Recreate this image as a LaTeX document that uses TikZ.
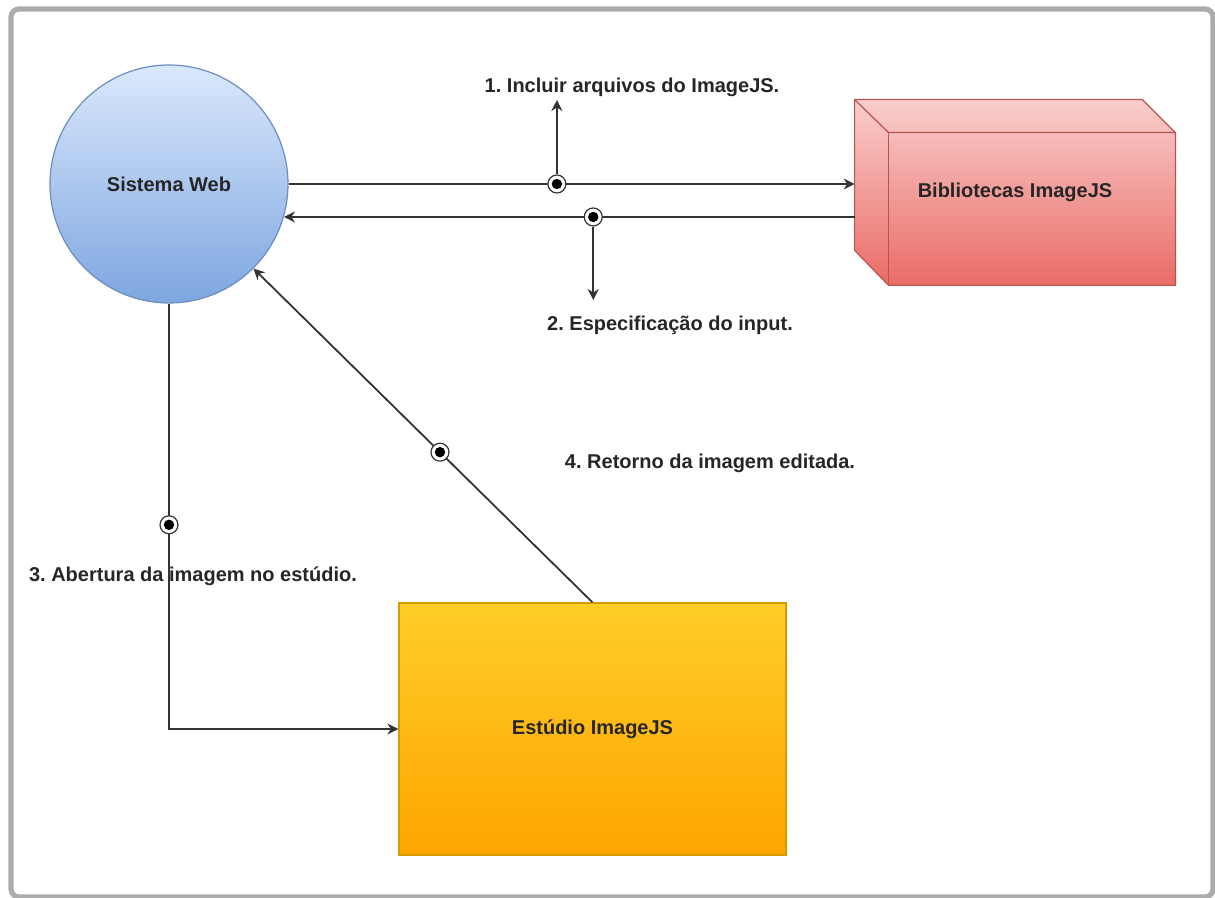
\documentclass[tikz,border=0pt]{standalone}
\usepackage{fontspec}
\setmainfont{Liberation Sans}
\usetikzlibrary{arrows.meta}
\frenchspacing

\definecolor{webtop}{HTML}{DAE8FC}
\definecolor{webbot}{HTML}{7EA6E0}
\definecolor{webline}{HTML}{6C8EBF}
\definecolor{bibtop}{HTML}{F8CECC}
\definecolor{bibbot}{HTML}{EA6B66}
\definecolor{bibline}{HTML}{B85450}
\definecolor{esttop}{HTML}{FFCD28}
\definecolor{estbot}{HTML}{FFA500}
\definecolor{estline}{HTML}{D79B00}

\tikzset{
  txt/.style={font=\fontsize{10}{12}\selectfont\bfseries, text=black!85},
  flow/.style={draw=black!80, line width=0.9pt, -{Stealth[length=5.5pt,width=5.5pt]}},
  dot/.style={circle, draw=black!80, fill=white, line width=0.6pt, inner sep=0pt,
    minimum size=9pt,
    path picture={\fill[black] (path picture bounding box.center) circle (2.6pt);}},
}

\begin{document}
\begin{tikzpicture}[x=0.5pt,y=-0.5pt]
\useasboundingbox (0,0) rectangle (1215,898);
% frame
\draw[gray!65, line width=2.6pt, rounded corners=4pt] (11,9) rectangle (1213,897);

% shapes
\node[circle, draw=webline, line width=0.6pt, top color=webtop, bottom color=webbot,
  minimum size=119pt, txt] (web) at (169,184) {Sistema Web};
\node[rectangle, minimum width=160pt, minimum height=92.5pt, txt] (bib) at (1015,192.5) {};
\shade[top color=bibtop, bottom color=bibbot, draw=bibline, line width=0.6pt]
  (bib.north west) -- ([shift={(-33,0)}]bib.north east) -- ([shift={(0,33)}]bib.north east)
  -- (bib.south east) -- ([shift={(34,0)}]bib.south west) -- ([shift={(0,-35)}]bib.south west) -- cycle;
\draw[bibline, line width=0.6pt] (bib.north west) -- ([shift={(34,33)}]bib.north west)
  -- ([shift={(0,33)}]bib.north east);
\draw[bibline, line width=0.6pt] ([shift={(34,33)}]bib.north west) -- ([shift={(34,0)}]bib.south west);
\node[txt] at (bib) {Bibliotecas ImageJS};
\node[rectangle, draw=estline, line width=0.6pt, top color=esttop, bottom color=estbot,
  minimum width=193.5pt, minimum height=126pt, txt] (est) at (592.5,729) {Estúdio ImageJS};

% labels
\node[txt] (l1) at (632,87) {1. Incluir arquivos do ImageJS.};
\node[txt] (l2) at (670,325) {2. Especificação do input.};
\node[txt] (l3) at (193,576) {3. Abertura da imagem no estúdio.};
\node[txt] (l4) at (710,463) {4. Retorno da imagem editada.};

% connectors
\draw[flow] (web.east) -- (web.east -| bib.west) node[dot, pos=0.474] (d1) {};
\draw[flow] (web.-16 -| bib.west) -- (web.-16) node[dot, pos=0.458] (d2) {};
\draw[flow] (web.south) |- (est.west) node[dot, pos=0.26] (d3) {};
\draw[flow] (est.north) -- (web.-45) node[dot, pos=0.45] (d4) {};
\draw[flow] (d1) -- (d1 |- 0,100);
\draw[flow] (d2) -- (d2 |- 0,300);
\end{tikzpicture}
\end{document}
